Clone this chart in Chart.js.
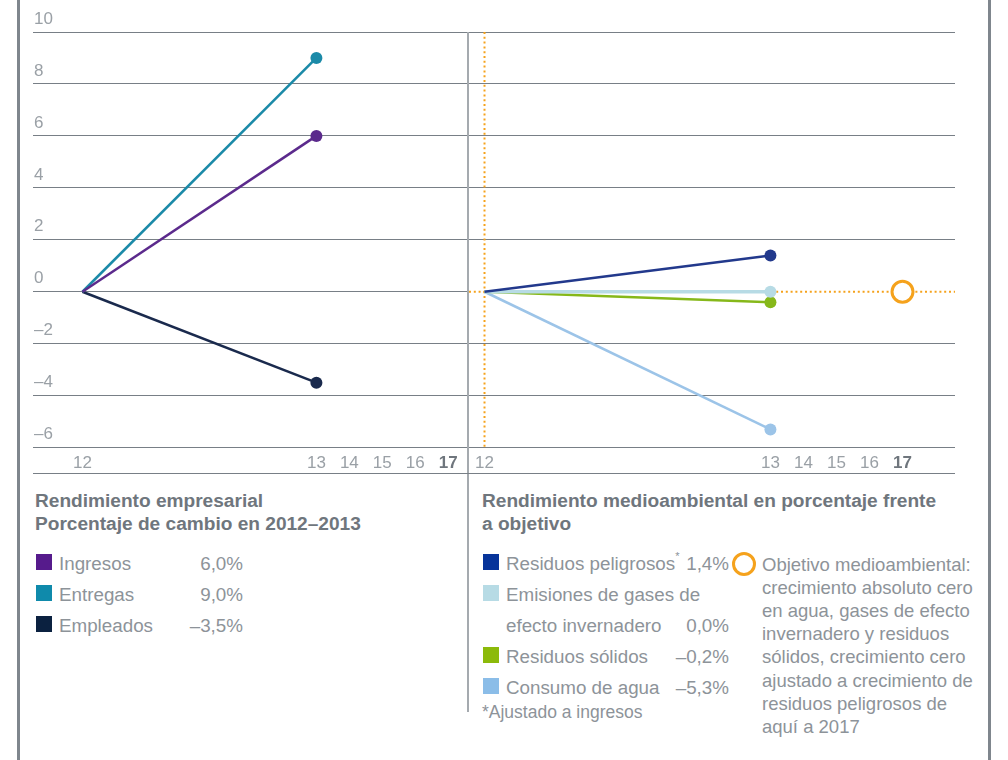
<!DOCTYPE html>
<html><head><meta charset="utf-8">
<script src="https://cdn.jsdelivr.net/npm/chart.js@4"></script>
<style>
html,body{margin:0;padding:0;background:#fff;}
body{width:1008px;height:760px;position:relative;overflow:hidden;font-family:"Liberation Sans",Arial,sans-serif;}
.abs{position:absolute;}
.frame{top:0;width:3px;height:760px;background:#7f868d;}
#w1{left:0;top:0;width:468px;height:480px;}
#w2{left:468px;top:0;width:540px;height:480px;}
.divider{left:467px;top:32px;width:2px;height:680px;background:#a5aaaf;}
.bottomline{left:33px;top:473px;width:922px;height:1px;background:#787f86;}
.title{font-weight:bold;font-size:19.1px;line-height:23px;color:#6f767d;white-space:nowrap;}
.item{font-size:18.8px;line-height:31px;color:#8d9399;white-space:nowrap;height:31px;}
.sq{display:inline-block;width:16px;height:16px;position:absolute;top:6px;left:0;}
.lbl{position:absolute;left:23px;top:0;}
.val{position:absolute;top:0;text-align:right;}
.note{font-size:18.5px;line-height:23.2px;color:#8d9399;white-space:nowrap;}
.foot{font-size:17.5px;color:#8d9399;white-space:nowrap;line-height:21px;}
.ring{width:18px;height:18px;border:3px solid #f5a21c;border-radius:50%;}
sup{font-size:11px;vertical-align:top;line-height:16px;}
</style>
</head><body>
<div class="abs frame" style="left:17px"></div>
<div class="abs frame" style="left:988px"></div>
<div class="abs" id="w1"><canvas id="c1" width="468" height="480"></canvas></div>
<div class="abs" id="w2"><canvas id="c2" width="540" height="480"></canvas></div>
<div class="abs divider"></div>
<div class="abs bottomline"></div>

<div class="abs title" style="left:35px;top:489px">Rendimiento empresarial<br>Porcentaje de cambio en 2012–2013</div>
<div class="abs" id="leg1" style="left:36px;top:548px;width:220px"></div>

<div class="abs title" style="left:482px;top:489px">Rendimiento medioambiental en porcentaje frente<br>a objetivo</div>
<div class="abs" id="leg2" style="left:483px;top:548px;width:250px"></div>
<div class="abs foot" style="left:482px;top:702px">*Ajustado a ingresos</div>
<div class="abs ring" style="left:732px;top:552px"></div>
<div class="abs note" style="left:762px;top:552.5px">Objetivo medioambiental:<br>crecimiento absoluto cero<br>en agua, gases de efecto<br>invernadero y residuos<br>sólidos, crecimiento cero<br>ajustado a crecimiento de<br>residuos peligrosos de<br>aquí a 2017</div>

<script>
// ---------- data ----------
const years = ['12', '13', '14', '15', '16', '17'];
const yTicks = [10, 8, 6, 4, 2, 0, -2, -4, -6];

const bizNames  = ['Ingresos', 'Entregas', 'Empleados'];
const bizStart  = [0, 0, 0];
const bizValues = [6.0, 9.0, -3.5];
const bizText   = ['6,0%', '9,0%', '–3,5%'];
const bizColors = ['#5b2a8c', '#1b8aa8', '#1a2a4d'];
const bizSquares = ['#561b8c', '#0f8aab', '#0b2140'];

const envNames  = ['Residuos peligrosos', 'Emisiones de gases de efecto invernadero', 'Residuos sólidos', 'Consumo de agua'];
const envStart  = [0, 0, 0, 0];
const envValues = [1.4, 0.0, -0.4, -5.3];
const envText   = ['1,4%', '0,0%', '–0,2%', '–5,3%'];
const envColors = ['#22398c', '#b7dbe5', '#86b81a', '#9cc4e8'];
const envSquares = ['#07349a', '#b7dbe5', '#8cba0a', '#8bbde8'];

const targetYear = '17';
const targetValue = 0;

// scale break: number of one-year slots used by the 2012→2013 step in each panel
const leftGap = 7.1;
const rightGap = 8.66;
function slot(year, gap) {
  const i = years.indexOf(year);
  return i === 0 ? 0 : gap + (i - 1);
}

const gridColor = '#787f86';
const tickColor = '#9aa0a6';
const orange = '#f5a21c';

function xAxis(gap, min, max) {
  return {
    type: 'linear', min: min, max: max,
    afterBuildTicks: (axis) => { axis.ticks = years.map(y => ({ value: slot(y, gap) })); },
    grid: { display: false, drawTicks: false },
    border: { display: false },
    ticks: {
      autoSkip: false, maxRotation: 0, padding: 6,
      callback: (v, i) => years[i],
      color: (ctx) => ctx.index === years.length - 1 ? '#6f767d' : tickColor,
      font: (ctx) => ({ family: '"Liberation Sans", Arial, sans-serif', size: 17,
                        weight: ctx.index === years.length - 1 ? 'bold' : 'normal' })
    }
  };
}
function yAxis(showLabels, hideZero) {
  return {
    min: -6, max: 10,
    afterBuildTicks: (axis) => { axis.ticks = yTicks.map(v => ({ value: v })); },
    afterFit: (axis) => { axis.width = 0; },
    grid: { drawTicks: false, lineWidth: 1,
            color: (ctx) => (hideZero && ctx.tick && ctx.tick.value === 0) ? 'rgba(0,0,0,0)' : gridColor },
    border: { display: false },
    ticks: {
      display: true, mirror: true, padding: 1, labelOffset: -13,
      color: showLabels ? tickColor : 'rgba(0,0,0,0)',
      font: { family: '"Liberation Sans", Arial, sans-serif', size: 17 },
      callback: (v) => v < 0 ? '\u2013' + Math.abs(v) : String(v)
    }
  };
}
const common = {
  responsive: false, animation: false, events: [],
  plugins: { legend: { display: false }, tooltip: { enabled: false } }
};

// ---------- left chart ----------
new Chart(document.getElementById('c1'), {
  type: 'line',
  data: {
    datasets: bizNames.map((n, k) => ({
      label: n,
      data: [{ x: slot('12', leftGap), y: bizStart[k] }, { x: slot('13', leftGap), y: bizValues[k] }],
      borderColor: bizColors[k], backgroundColor: bizColors[k],
      borderWidth: 2.5, pointRadius: [0, 6], pointBorderWidth: 0, tension: 0
    }))
  },
  options: Object.assign({}, common, {
    layout: { autoPadding: false, padding: { left: 33, right: 0, top: 32, bottom: 0 } },
    scales: { x: xAxis(leftGap, -1.5, 11.7), y: yAxis(true, false) }
  })
});

// ---------- right chart ----------
const rMin = -0.5, rMax = 14.25;
const envSets = envNames.map((n, k) => ({
  label: n,
  data: [{ x: slot('12', rightGap), y: envStart[k] }, { x: slot('13', rightGap), y: envValues[k] }],
  borderColor: envColors[k], backgroundColor: envColors[k],
  borderWidth: k === 1 ? 3.5 : 2.5, pointRadius: [0, 6], pointBorderWidth: 0, tension: 0
}));
new Chart(document.getElementById('c2'), {
  type: 'line',
  data: {
    datasets: [
      envSets[0], envSets[1], envSets[2], envSets[3],
      { label: 'Objetivo', data: [{ x: slot(targetYear, rightGap), y: targetValue }],
        showLine: false, pointRadius: 10.5, pointBorderWidth: 3,
        pointBorderColor: orange, pointBackgroundColor: '#ffffff' },
      { label: 'h', data: [{ x: rMin + 0.03, y: targetValue }, { x: rMax, y: targetValue }],
        borderColor: orange, borderWidth: 2, borderDash: [2, 2.8], pointRadius: 0 },
      { label: 'v', data: [{ x: slot('12', rightGap), y: 10 }, { x: slot('12', rightGap), y: -6 }],
        borderColor: orange, borderWidth: 2, borderDash: [2, 2.8], pointRadius: 0 }
    ]
  },
  options: Object.assign({}, common, {
    layout: { autoPadding: false, padding: { left: -1.6, right: 53, top: 32, bottom: 0 } },
    scales: { x: xAxis(rightGap, rMin, rMax), y: yAxis(false, true) }
  })
});

// ---------- legends ----------
function row(color, label, value, valRight) {
  return '<div class="item" style="position:relative">' +
    '<span class="sq" style="background:' + color + '"></span>' +
    '<span class="lbl">' + label + '</span>' +
    (value ? '<span class="val" style="right:' + valRight + 'px">' + value + '</span>' : '') +
    '</div>';
}
let h1 = '';
bizNames.forEach((n, k) => { h1 += row(bizSquares[k], n, bizText[k], 13); });
document.getElementById('leg1').innerHTML = h1;

let h2 = '';
h2 += row(envSquares[0], 'Residuos peligrosos<sup>*</sup>', envText[0], 4);
h2 += row(envSquares[1], 'Emisiones de gases de', '', 0);
h2 += '<div class="item" style="position:relative"><span class="lbl">efecto invernadero</span><span class="val" style="right:4px">' + envText[1] + '</span></div>';
h2 += row(envSquares[2], envNames[2], envText[2], 4);
h2 += row(envSquares[3], envNames[3], envText[3], 4);
document.getElementById('leg2').innerHTML = h2;
</script>
</body></html>
